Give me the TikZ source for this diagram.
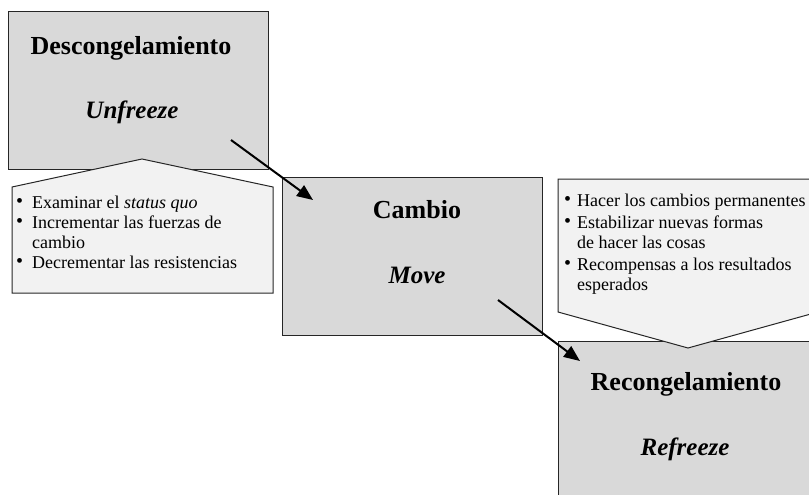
\documentclass[tikz,border=0pt]{standalone}
\usepackage{fontspec}
\setmainfont{Liberation Serif}
\usepackage{tikz}
\usetikzlibrary{arrows.meta}
\definecolor{stagegray}{HTML}{D9D9D9}
\definecolor{notegray}{HTML}{F2F2F2}
\tikzstyle{stage}=[rectangle,draw=black!85,fill=stagegray,line width=1pt,minimum width=260pt,minimum height=158pt,inner sep=0pt,anchor=north west]
\tikzstyle{note}=[draw=black!85,fill=notegray,line width=1pt]
\tikzstyle{title}=[anchor=base,inner sep=0pt,font=\fontsize{26}{28}\selectfont\bfseries]
\tikzstyle{subtitle}=[anchor=base,inner sep=0pt,font=\fontsize{25}{28}\selectfont\bfseries\itshape]
\tikzstyle{items}=[anchor=base west,inner sep=0pt,font=\fontsize{18}{20}\selectfont]
\tikzstyle{arrow}=[-{Triangle[length=16pt,width=13pt]},line width=2pt]
\newcommand{\itm}{\raisebox{0.5pt}{\fontsize{20}{20}\selectfont\textbullet}}

\begin{document}
\begin{tikzpicture}[x=1pt,y=-1pt]
      \useasboundingbox (0,0) rectangle (809,495);
      \clip (0,0) rectangle (809,495);
      \node[stage] at (8,11) (unfreeze) {};
      \node[stage] at (282,177) (move) {};
      \node[stage] at (558,341) (refreeze) {};
      \draw[note] (12,187) -- (142,159) -- (273,187) -- (273,293) -- (12,293) -- cycle;
      \draw[note] (558,179) -- (818,179) -- (818,312) -- (688,348) -- (558,312) -- cycle;
      \node[title] at (131,55) (unfreezeT) {Descongelamiento};
      \node[subtitle] at (132,118) (unfreezeS) {Unfreeze};
      \node[title] at (417,218) (moveT) {Cambio};
      \node[subtitle] at (417,283) (moveS) {Move};
      \node[title] at (686,390) (refreezeT) {Recongelamiento};
      \node[subtitle] at (685,455) (refreezeS) {Refreeze};
      \node[items] at (16,208) (unfreezeL) {\begin{tabular}[t]{@{}p{16pt}@{}l@{}}
        \itm & Examinar el \textit{status quo}\\
        \itm & Incrementar las fuerzas de\\
             & cambio\\
        \itm & Decrementar las resistencias
      \end{tabular}};
      \node[items] at (564,206) (refreezeL) {\begin{tabular}[t]{@{}p{13pt}@{}l@{}}
        \itm & Hacer los cambios permanentes\\[2pt]
        \itm & Estabilizar nuevas formas\\
             & de hacer las cosas\\[2pt]
        \itm & Recompensas a los resultados\\
             & esperados
      \end{tabular}};
      \coordinate (a1) at (231,140);
      \coordinate (b1) at (313,200);
      \coordinate (a2) at (498,300);
      \coordinate (b2) at (580,361);
      \draw[arrow] (a1) -- (b1);
      \draw[arrow] (a2) -- (b2);
    \end{tikzpicture}
\end{document}
